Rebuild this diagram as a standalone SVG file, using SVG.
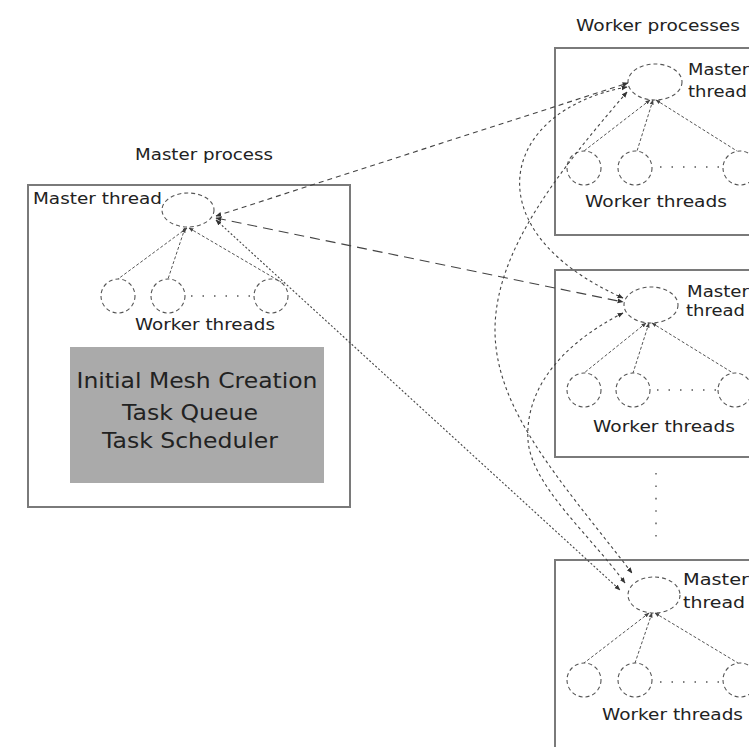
<svg xmlns="http://www.w3.org/2000/svg" width="749" height="747" viewBox="0 0 749 747">
<defs>
<marker id="ah" viewBox="0 0 10 10" refX="9" refY="5" markerWidth="6" markerHeight="6" orient="auto-start-reverse" markerUnits="userSpaceOnUse">
<path d="M0,1 L10,5 L0,9 z" fill="#333"/>
</marker>
<marker id="ahs" viewBox="0 0 10 10" refX="9" refY="5" markerWidth="5" markerHeight="5" orient="auto-start-reverse" markerUnits="userSpaceOnUse">
<path d="M0,1 L10,5 L0,9 z" fill="#444"/>
</marker>
</defs>
<style>
.box{fill:#fff;stroke:#7a7a7a;stroke-width:2}
.th{fill:none;stroke:#555;stroke-width:1.1;stroke-dasharray:4,3}
.tl{fill:none;stroke:#555;stroke-width:1;stroke-dasharray:3,2;marker-start:url(#ahs)}
.dots{fill:none;stroke:#555;stroke-width:1.4;stroke-dasharray:1.5,10}
.t{font-family:"DejaVu Sans","Liberation Sans",sans-serif;font-size:15px;fill:#222}
.big{font-family:"DejaVu Sans","Liberation Sans",sans-serif;font-size:22px;fill:#222;text-anchor:middle}
.c{fill:none;stroke:#444;stroke-width:1.1}
</style>
<rect width="749" height="747" fill="#fff"/>

<text class="t" x="135" y="160" textLength="138" lengthAdjust="spacingAndGlyphs">Master process</text>
<text class="t" x="576" y="31" textLength="164" lengthAdjust="spacingAndGlyphs">Worker processes</text>

<g id="master-process">
<rect class="box" x="28" y="185" width="322" height="322"/>
<text class="t" x="33" y="204" textLength="129" lengthAdjust="spacingAndGlyphs">Master thread</text>
<ellipse class="th" cx="188" cy="210" rx="26" ry="17"/>
<circle class="th" cx="118" cy="296" r="17"/>
<circle class="th" cx="168" cy="296" r="17"/>
<circle class="th" cx="271" cy="296" r="17"/>
<line class="dots" x1="191" y1="296" x2="250" y2="296"/>
<line class="tl" x1="187" y1="228" x2="118" y2="279"/>
<line class="tl" x1="185" y1="228" x2="168" y2="279"/>
<line class="tl" x1="189" y1="228" x2="281" y2="282"/>
<text class="t" x="135" y="330" textLength="140" lengthAdjust="spacingAndGlyphs">Worker threads</text>
<rect x="70" y="347" width="254" height="136" fill="#aaaaaa"/>
<text class="big" x="197" y="388" textLength="241" lengthAdjust="spacingAndGlyphs">Initial Mesh Creation</text>
<text class="big" x="190" y="420" textLength="136" lengthAdjust="spacingAndGlyphs">Task Queue</text>
<text class="big" x="190" y="448" textLength="176" lengthAdjust="spacingAndGlyphs">Task Scheduler</text>
</g>

<g id="worker-process-1">
<rect class="box" x="555" y="48" width="210" height="187"/>
<ellipse class="th" cx="655" cy="82" rx="27" ry="18"/>
<text class="t" x="688" y="75" textLength="61" lengthAdjust="spacingAndGlyphs">Master</text>
<text class="t" x="688" y="97" textLength="59" lengthAdjust="spacingAndGlyphs">thread</text>
<circle class="th" cx="584" cy="168" r="17"/>
<circle class="th" cx="635" cy="168" r="17"/>
<circle class="th" cx="740" cy="168" r="17"/>
<line class="dots" x1="660" y1="167" x2="720" y2="167"/>
<line class="tl" x1="650" y1="100" x2="584" y2="151"/>
<line class="tl" x1="653" y1="100" x2="637" y2="151"/>
<line class="tl" x1="656" y1="100" x2="737" y2="151"/>
<text class="t" x="585" y="207" textLength="142" lengthAdjust="spacingAndGlyphs">Worker threads</text>
</g>

<g id="worker-process-2">
<rect class="box" x="555" y="270" width="210" height="187"/>
<ellipse class="th" cx="651" cy="305" rx="27" ry="18"/>
<text class="t" x="687" y="297" textLength="62" lengthAdjust="spacingAndGlyphs">Master</text>
<text class="t" x="686" y="316" textLength="59" lengthAdjust="spacingAndGlyphs">thread</text>
<circle class="th" cx="584" cy="390" r="17"/>
<circle class="th" cx="633" cy="390" r="17"/>
<circle class="th" cx="735" cy="390" r="17"/>
<line class="dots" x1="657" y1="390" x2="716" y2="390"/>
<line class="tl" x1="646" y1="323" x2="584" y2="373"/>
<line class="tl" x1="649" y1="323" x2="633" y2="373"/>
<line class="tl" x1="652" y1="323" x2="733" y2="373"/>
<text class="t" x="593" y="432" textLength="142" lengthAdjust="spacingAndGlyphs">Worker threads</text>
</g>

<g id="ellipsis-dots">
<line class="dots" x1="656" y1="473" x2="656" y2="538" style="stroke-dasharray:1.6,10.8"/>
</g>

<g id="worker-process-3">
<rect class="box" x="555" y="560" width="210" height="200"/>
<ellipse class="th" cx="654" cy="595" rx="26" ry="18"/>
<text class="t" x="683" y="585" textLength="66" lengthAdjust="spacingAndGlyphs">Master</text>
<text class="t" x="683" y="608" textLength="62" lengthAdjust="spacingAndGlyphs">thread</text>
<circle class="th" cx="584" cy="680" r="17"/>
<circle class="th" cx="635" cy="680" r="17"/>
<circle class="th" cx="740" cy="680" r="17"/>
<line class="dots" x1="660" y1="682" x2="720" y2="682"/>
<line class="tl" x1="649" y1="613" x2="584" y2="663"/>
<line class="tl" x1="652" y1="613" x2="635" y2="663"/>
<line class="tl" x1="655" y1="613" x2="738" y2="663"/>
<text class="t" x="602" y="720" textLength="141" lengthAdjust="spacingAndGlyphs">Worker threads</text>
</g>

<g id="connectors">
<line class="c" x1="216" y1="216" x2="628" y2="83" stroke-dasharray="5,4" marker-start="url(#ah)" marker-end="url(#ah)"/>
<line class="c" x1="216" y1="218" x2="623" y2="302" stroke-dasharray="10,6" marker-start="url(#ah)" marker-end="url(#ah)"/>
<line class="c" x1="216" y1="220" x2="620" y2="590" stroke-dasharray="2,2" marker-start="url(#ah)" marker-end="url(#ah)"/>
<path class="c" d="M627,87 C500,110 470,230 623,298" stroke-dasharray="3,3" marker-start="url(#ah)" marker-end="url(#ah)"/>
<path class="c" d="M627,92 C560,170 495,250 495,330 C495,410 560,480 632,573" stroke-dasharray="3,3" marker-start="url(#ah)" marker-end="url(#ah)"/>
<path class="c" d="M623,313 C560,345 525,390 528,440 C531,485 590,535 625,583" stroke-dasharray="3,3" marker-start="url(#ah)" marker-end="url(#ah)"/>
</g>
</svg>
